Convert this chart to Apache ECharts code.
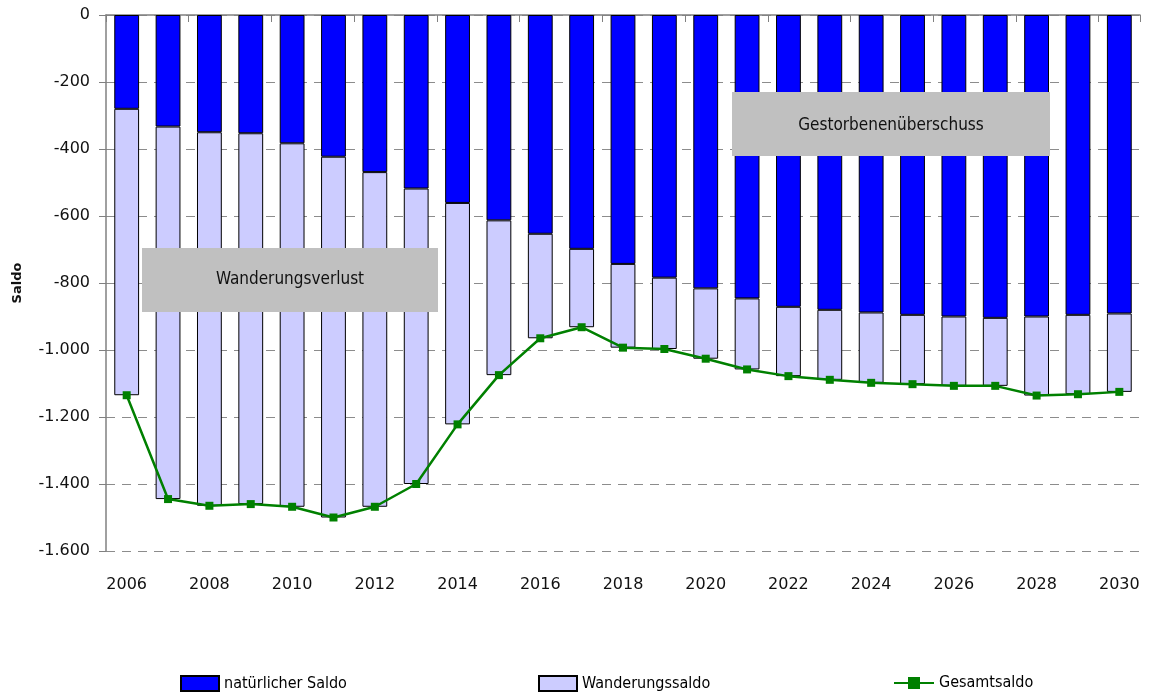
<!DOCTYPE html>
<html>
<head>
<meta charset="utf-8">
<title>Saldo 2006-2030</title>
<script src="https://cdn.jsdelivr.net/npm/echarts@6/dist/echarts.min.js"></script>
<style>
  html, body { margin: 0; padding: 0; background: #fff; }
  #chart { width: 1150px; height: 695px; }
</style>
</head>
<body>
<div id="chart"></div>
<script>
// Jahre
const years = ['2006', '2007', '2008', '2009', '2010', '2011', '2012', '2013', '2014', '2015',
  '2016', '2017', '2018', '2019', '2020', '2021', '2022', '2023', '2024', '2025',
  '2026', '2027', '2028', '2029', '2030']

// natürlicher Saldo (Geborene - Gestorbene)
const natuerlich = [-280, -333, -350, -353, -383, -423, -469, -518, -561, -613,
  -653, -698, -743, -784, -816, -846, -871, -880, -888, -895,
  -900, -904, -900, -895, -891]

// Wanderungssaldo
const wanderung = [-855, -1112, -1115, -1107, -1085, -1077, -999, -882, -661, -462,
  -312, -234, -250, -213, -210, -212, -207, -209, -210, -207,
  -207, -203, -236, -237, -234]

// Gesamtsaldo
const gesamt = [-1135, -1445, -1465, -1460, -1468, -1500, -1468, -1400, -1222, -1075,
  -965, -932, -993, -997, -1026, -1058, -1078, -1089, -1098, -1102,
  -1107, -1107, -1136, -1132, -1125]

const FONT = 'DejaVu Sans'
const COND = "'DejaVu Sans Condensed', 'DejaVu Sans'"

function fmt(v) {
  // deutsches Tausendertrennzeichen
  const s = String(Math.abs(v)).replace(/\B(?=(\d{3})+(?!\d))/g, '.')
  return (v < 0 ? '-' : '') + s
}

const chart = echarts.init(document.getElementById('chart'))

const legendText = { fontFamily: COND, fontSize: 16, color: '#000' }

chart.setOption({
  animation: false,
  grid: { left: 106, right: 10, top: 15, bottom: 144 },
  legend: [
    { data: [{ name: 'natürlicher Saldo', icon: 'rect' }], left: 175, top: 670, itemWidth: 38, itemHeight: 15, itemGap: 4, textStyle: legendText },
    { data: [{ name: 'Wanderungssaldo', icon: 'rect' }], left: 533, top: 670, itemWidth: 38, itemHeight: 15, itemGap: 4, textStyle: legendText },
    { data: ['Gesamtsaldo'], left: 888, top: 670, itemWidth: 40, itemHeight: 15, itemGap: 4, textStyle: legendText }
  ],
  xAxis: {
    type: 'category',
    data: years,
    boundaryGap: true,
    axisLine: { lineStyle: { color: '#808080', width: 1.5 } },
    axisTick: { show: true, length: 7, lineStyle: { color: '#808080' } },
    axisLabel: { interval: 1, fontFamily: FONT, fontSize: 16, color: '#111', margin: 26 }
  },
  yAxis: {
    type: 'value',
    min: -1600,
    max: 0,
    interval: 200,
    name: 'Saldo',
    nameLocation: 'middle',
    nameGap: 82,
    nameTextStyle: { fontFamily: FONT, fontSize: 13, fontWeight: 'bold', color: '#111' },
    axisLine: { show: true, lineStyle: { color: '#808080', width: 1.5 } },
    axisTick: { show: true, length: 7, lineStyle: { color: '#808080' } },
    axisLabel: { formatter: fmt, fontFamily: FONT, fontSize: 16, color: '#111', margin: 16 },
    splitLine: { show: true, lineStyle: { color: '#8c8c8c', type: [9, 7], width: 1 } }
  },
  graphic: [
    {
      type: 'group', left: 142, top: 248, zlevel: 1, z: 100,
      children: [
        { type: 'rect', z: 100, shape: { width: 296, height: 64 }, style: { fill: '#c0c0c0' } },
        { type: 'text', z: 101, x: 148, y: 32, style: { text: 'Wanderungsverlust', fontFamily: COND, fontSize: 17, fill: '#111', align: 'center', verticalAlign: 'middle' } }
      ]
    },
    {
      type: 'group', left: 732, top: 92, zlevel: 1, z: 100,
      children: [
        { type: 'rect', z: 100, shape: { width: 318, height: 64 }, style: { fill: '#c0c0c0' } },
        { type: 'text', z: 101, x: 159, y: 34, style: { text: 'Gestorbenenüberschuss', fontFamily: COND, fontSize: 17, fill: '#111', align: 'center', verticalAlign: 'middle' } }
      ]
    }
  ],
  series: [
    {
      name: 'natürlicher Saldo',
      type: 'bar',
      stack: 'saldo',
      data: natuerlich,
      barCategoryGap: '40%',
      itemStyle: { color: '#0000ff', borderColor: '#000', borderWidth: 1 }
    },
    {
      name: 'Wanderungssaldo',
      type: 'bar',
      stack: 'saldo',
      data: wanderung,
      itemStyle: { color: '#ccccff', borderColor: '#000', borderWidth: 1 }
    },
    {
      name: 'Gesamtsaldo',
      type: 'line',
      data: gesamt,
      z: 5,
      symbol: 'rect',
      symbolSize: 8,
      lineStyle: { color: '#008000', width: 2.5 },
      itemStyle: { color: '#008000' }
    }
  ]
})
</script>
</body>
</html>
